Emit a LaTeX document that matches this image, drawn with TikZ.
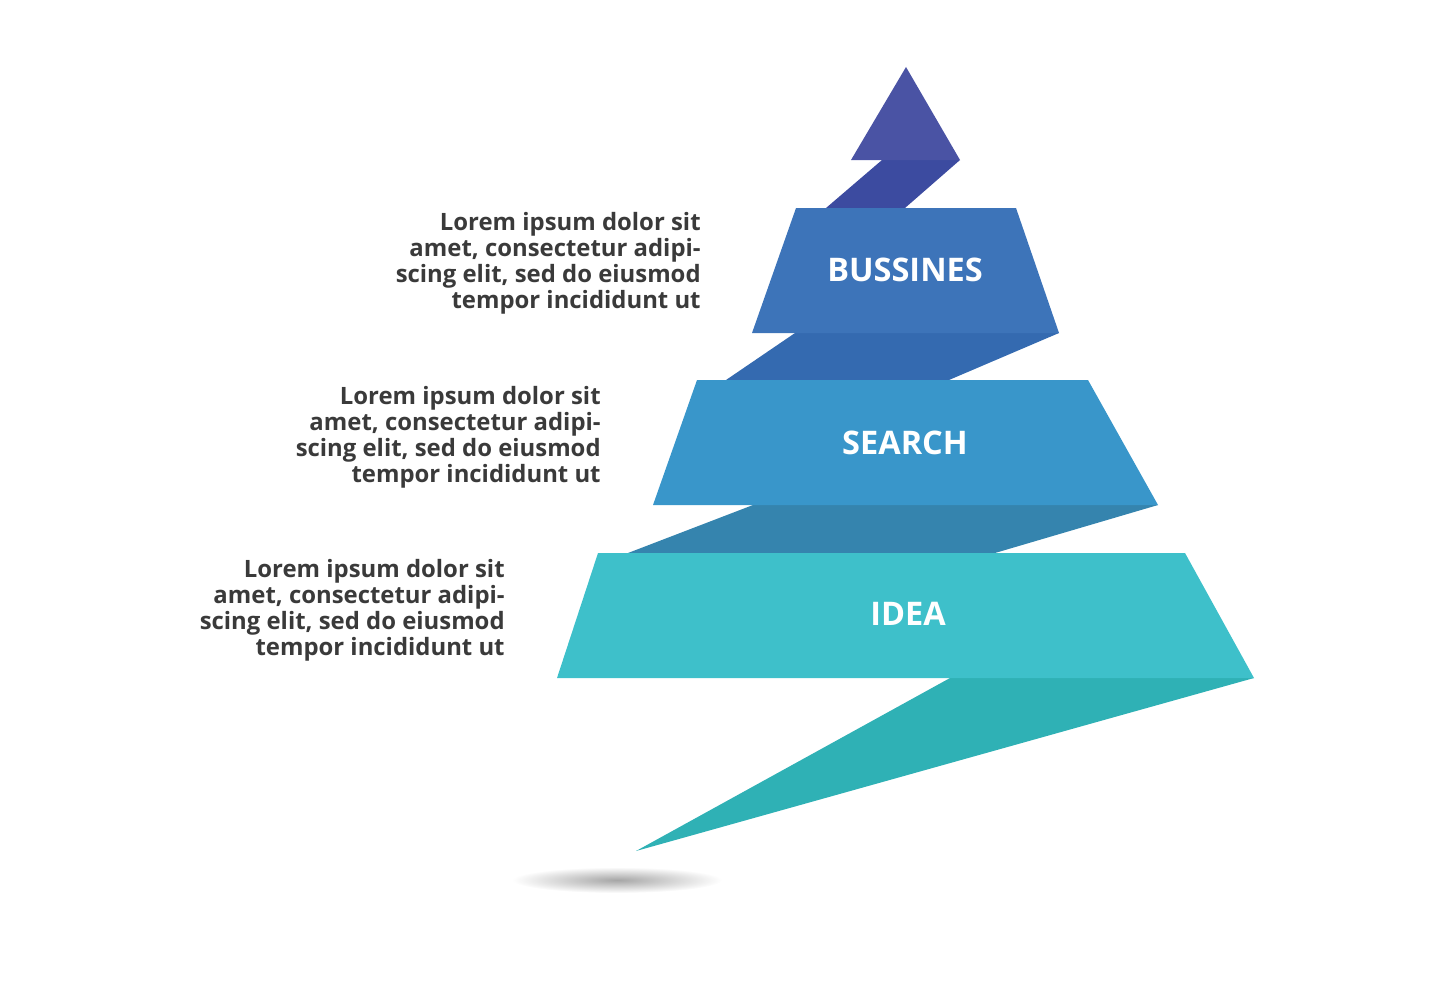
\documentclass[tikz,border=0pt]{standalone}
\usepackage{fontspec}
\setmainfont{Open Sans}
\usepackage{xcolor}
\definecolor{tipcol}{HTML}{4A53A4}
\definecolor{ribbonA}{HTML}{3C4BA0}
\definecolor{busscol}{HTML}{3D74B9}
\definecolor{ribbonB}{HTML}{346AB0}
\definecolor{searchcol}{HTML}{3996CA}
\definecolor{ribbonC}{HTML}{3584AE}
\definecolor{ideacol}{HTML}{3EC0CA}
\definecolor{tailcol}{HTML}{2FB1B5}
\definecolor{textcol}{HTML}{3A3A3A}

\begin{document}
\begin{tikzpicture}[x=0.02cm, y=-0.02cm]
        % Define styles
        \tikzset{
            title/.style={text=white, font=\fontsize{18.5}{20}\selectfont\bfseries},
            blurb/.style={anchor=east, align=right, text=textcol, inner sep=0pt,
                font=\fontsize{13.6}{14.8}\selectfont\bfseries}
        }
        \useasboundingbox (0,0) rectangle (1435,980);

        % Shadow
        \shade[inner color=gray!70, outer color=white] (617,880) ellipse (105 and 13);

        % Ribbons
        \fill[tailcol] (950,678) -- (1254,678) -- (636,851) -- cycle;
        \fill[ribbonC] (753,505) -- (1158,505) -- (995,553) -- (628,553) -- cycle;
        \fill[ribbonB] (795,333) -- (1059,333) -- (949,380) -- (726,380) -- cycle;
        \fill[ribbonA] (882,160) -- (960,160) -- (905,208) -- (826,208) -- cycle;

        % Layers
        \fill[tipcol] (906,67) -- (960,160) -- (851,160) -- cycle;
        \fill[busscol] (796,208) -- (1016,208) -- (1059,333) -- (752,333) -- cycle;
        \fill[searchcol] (697,380) -- (1088,380) -- (1158,505) -- (653,505) -- cycle;
        \fill[ideacol] (598,553) -- (1185,553) -- (1254,678) -- (557,678) -- cycle;

        % Titles
        \node[title] (bussines) at (905,270) {BUSSINES};
        \node[title] (search) at (905,443) {SEARCH};
        \node[title] (idea) at (908,614) {IDEA};

        % Texts
        \node[blurb] (text_bussines) at (701,263) {Lorem ipsum dolor sit\\amet, consectetur adipi-\\scing elit, sed do eiusmod\\tempor incididunt ut};
        \node[blurb] (text_search) at (601,437) {Lorem ipsum dolor sit\\amet, consectetur adipi-\\scing elit, sed do eiusmod\\tempor incididunt ut};
        \node[blurb] (text_idea) at (505,610) {Lorem ipsum dolor sit\\amet, consectetur adipi-\\scing elit, sed do eiusmod\\tempor incididunt ut};
    \end{tikzpicture}
\end{document}
